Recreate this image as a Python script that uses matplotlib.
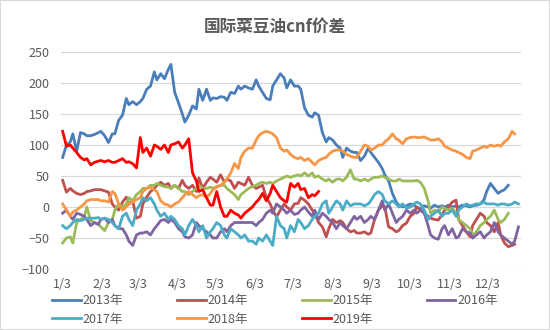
import numpy as np
import pandas as pd
import matplotlib
matplotlib.use("Agg")
import matplotlib.pyplot as plt
from matplotlib.patches import Rectangle

plt.rcParams['font.family'] = ['Noto Sans CJK SC', 'DejaVu Sans']

# day of year for each sampled trading date
days = [3, 6, 9, 11, 14, 17, 20, 22, 25, 28,
        31, 33, 36, 39, 42, 44, 47, 50, 53, 55,
        58, 61, 64, 66, 69, 72, 75, 77, 80, 83,
        86, 88, 91, 94, 97, 99, 102, 105, 108, 110,
        113, 116, 119, 121, 124, 127, 130, 132, 135, 138,
        141, 143, 146, 149, 152, 155, 157, 160, 163, 166,
        168, 171, 174, 177, 179, 182, 185, 188, 190, 193,
        196, 199, 201, 204, 207, 210, 212, 215, 218, 221,
        223, 226, 229, 232, 234, 237, 240, 243, 245, 248,
        251, 254, 256, 259, 262, 265, 267, 270, 273, 276,
        279, 281, 284, 287, 290, 292, 295, 298, 301, 303,
        306, 309, 312, 314, 317, 320, 323, 325, 328, 331,
        334, 336, 339, 342, 345, 347, 350, 353, 356, 358,
        361]

y2013 = [80, 100, 105, 118, 90, 120, 118, 115, 115, 117,
         120, 122, 115, 104, 118, 118, 140, 148, 175, 165,
         170, 165, 170, 175, 190, 195, 218, 205, 215, 207,
         222, 230, 185, 168, 150, 137, 148, 163, 158, 190,
         172, 190, 172, 176, 175, 178, 177, 172, 185, 183,
         195, 190, 195, 192, 190, 205, 195, 185, 175, 173,
         195, 205, 215, 208, 192, 205, 195, 195, 190, 160,
         148, 145, 152, 148, 120, 105, 112, 108, 100, 95,
         80, 95, 90, 88, 88, 75, 82, 95, 88, 80,
         72, 62, 52, 42, 22, 8, 3, 0, 2, 5,
         3, 0, -3, 2, 0, -2, 3, 0, 2, 0,
         3, 0, 2, 0, 3, 2, 0, 2, 3, 5,
         12, 25, 38, 30, 22, 25, 28, 35, None, None,
         None]

y2014 = [43, 24, 30, 26, 22, 20, 22, 25, 26, 28,
         28, 28, 26, 24, 5, 0, -5, 8, 16, 5,
         10, -18, -15, 5, 16, 25, 30, 35, 40, 35,
         38, 30, 35, 30, 43, 35, 30, 35, 25, 47,
         30, 40, 48, 45, 40, 52, 40, 45, 42, 30,
         40, 38, 35, 48, 35, 30, 32, 35, 15, 5,
         -5, -16, -5, 5, 0, -5, 5, 6, 15, 11,
         5, -5, -10, -25, -32, -48, -35, -20, -25, -22,
         -25, -35, -40, -38, -42, -42, -40, -44, -42, -20,
         -5, 2, 0, -32, -35, -40, -38, -30, -26, -15,
         -10, 0, -5, -10, -15, -18, -20, -21, -12, -5,
         0, 8, 11, -20, -30, -40, -48, -30, -20, -10,
         -15, -25, -30, -40, -25, -45, -58, -64, -62, -60,
         None]

y2015 = [-58, -50, -48, -58, -25, -20, -15, 0, -22, -25,
         -28, -32, -38, -25, -20, -5, 5, 0, 5, 15,
         10, 20, 25, 30, 30, 35, 35, 38, 35, 33,
         32, 30, 35, 30, 25, 25, 20, 25, 30, 35,
         30, 30, 32, 30, 33, 35, 35, 30, 25, 20,
         12, 20, 25, 30, 33, 35, 38, 40, 38, 40,
         38, 42, 45, 48, 50, 48, 50, 52, 50, 55,
         50, 55, 48, 50, 45, 42, 45, 40, 45, 45,
         42, 48, 60, 45, 45, 42, 45, 42, 45, 48,
         48, 50, 48, 45, 42, 42, 45, 42, 42, 42,
         42, 43, 40, 30, 10, -10, -5, -8, 0, -2,
         -5, -2, -10, -20, -25, -30, -35, -45, -40, -30,
         -25, -20, -15, -5, -20, -25, -20, -10, None, None,
         None]

y2016 = [-10, -5, -15, -20, -10, -12, -15, -20, -30, -25,
         -28, -20, -18, -25, -20, -30, -35, -35, -45, -55,
         -62, -45, -42, -42, -40, -45, -35, -30, -22, -20,
         -25, -20, -25, -35, -40, -48, -50, -45, -25, -30,
         -35, -40, -45, -50, -50, -40, -35, -40, -30, -25,
         -25, -25, -25, -25, -25, -30, -25, -20, -10, -5,
         -10, 5, 0, -5, -10, -5, -12, -10, -5, 0,
         -8, -15, -5, -20, -10, -15, -20, -25, -35, -25,
         -30, -35, -25, -15, -20, -15, -25, -20, -15, -20,
         -5, 10, -5, 5, -10, -25, -20, -15, -5, -10,
         -5, -10, -5, -10, -30, -45, -50, -52, -35, -30,
         -45, -35, -50, -48, -35, -40, -42, -50, -45, -40,
         -50, -45, -40, -25, -40, -45, -50, -55, -60, -55,
         -32]

y2017 = [-30, -35, -30, -25, -20, -22, -20, -18, -18, -18,
         -17, -20, -18, -20, -25, -30, -35, -15, -10, -20,
         -30, -5, 5, 15, 10, 15, 5, -5, -15, -10,
         -20, -15, -20, -30, -35, -45, -30, -20, -30, -40,
         -30, -50, -40, -35, -25, -30, -45, -50, -35, -40,
         -45, -50, -45, -55, -55, -60, -50, -55, -45, -55,
         -62, -15, -30, -35, -50, -30, -40, -20, -25, -35,
         -30, -20, -15, -10, 5, 10, -10, 0, 10, 5,
         -5, 10, 2, 5, 5, 5, 2, 5, 10, 20,
         25, 20, 10, 5, 10, 5, 0, 5, -2, 0,
         5, 8, 5, -5, -20, -15, -10, -5, -15, -10,
         -10, -5, -15, -5, 0, 5, 2, 3, 5, 5,
         8, 5, 5, 5, 3, 5, 5, 3, 5, 8,
         5]

y2018 = [5, -5, -15, -8, -5, 0, 5, 10, 12, 12,
         12, 10, 10, 8, 25, 22, 5, -5, 0, 5,
         8, 12, 15, 25, 30, 32, 28, 25, 10, 5,
         3, 0, 5, 8, 15, 20, 25, 20, 15, 18,
         20, 15, 22, 28, 32, 35, 40, 45, 55, 70,
         62, 80, 90, 95, 95, 108, 115, 120, 122, 120,
         118, 112, 95, 90, 92, 85, 80, 78, 80, 75,
         78, 72, 68, 75, 78, 80, 85, 90, 92, 92,
         90, 85, 82, 80, 80, 90, 100, 98, 92, 95,
         100, 100, 105, 110, 118, 110, 108, 102, 110, 112,
         113, 112, 112, 113, 110, 108, 108, 110, 105, 98,
         95, 92, 90, 88, 85, 80, 78, 90, 92, 95,
         98, 96, 100, 98, 100, 98, 105, 110, 122, 118,
         None]

y2019 = [122, 98, 100, 95, 88, 80, 76, 78, 68, 72,
         74, 75, 73, 75, 72, 72, 75, 78, 72, 73,
         70, 63, 112, 88, 95, 82, 100, 98, 93, 100,
         88, 100, 102, 105, 95, 100, 110, 55, 42, 25,
         28, 15, 3, 3, 25, 0, -15, -15, -5, -10,
         -13, -18, -10, -5, 0, 8, 12, 22, 10, 22,
         35, 25, 15, 10, 8, 38, 32, 38, 28, 30,
         15, 20, 18, 25] + [None] * 57

years = ["2013年", "2014年", "2015年", "2016年", "2017年", "2018年", "2019年"]
series = [y2013, y2014, y2015, y2016, y2017, y2018, y2019]
colors = ["#4A7EBB", "#C0504D", "#9BBB59", "#8064A2", "#4BACC6", "#F79646", "#FF0000"]

tick_days = [pd.Timestamp(2019, m, 3).dayofyear for m in range(1, 13)]
tick_labels = [f"{m}/3" for m in range(1, 13)]

text_color = "#595959"

fig = plt.figure(figsize=(5.5, 3.3), dpi=100)
ax = fig.add_axes([0.1116, 0.1848, 0.8357, 0.6576])

handles = []
for name, vals, c in zip(years, series, colors):
    h, = ax.plot(days, np.array(vals, dtype=float), color=c, lw=2.0,
                 solid_joinstyle='round', label=name)
    handles.append(h)

ax.set_xlim(2, 363)
ax.set_ylim(-100, 250)
ax.set_yticks(np.arange(-100, 251, 50))
ax.set_xticks(tick_days)
ax.set_xticklabels(tick_labels)
ax.grid(axis='y', color='#D9D9D9', lw=0.9)
ax.set_axisbelow(True)
for s in ax.spines.values():
    s.set_visible(False)
ax.tick_params(length=0, labelsize=9, labelcolor=text_color)
ax.tick_params(axis='y', pad=8.5)
ax.tick_params(axis='x', pad=6.5)

fig.text(0.5, 1 - 27 / 330, "国际菜豆油cnf价差", ha='center', va='center',
         fontsize=12, fontweight='bold', color=text_color)

# legend reads row by row: 2013-2016 on top, 2017-2019 below
order = [0, 4, 1, 5, 2, 6, 3]
leg = fig.legend([handles[i] for i in order], [years[i] for i in order],
                 loc='upper left', bbox_to_anchor=(52 / 550, 1 - 294 / 330),
                 ncol=4, frameon=False, fontsize=9, handlelength=2.3,
                 handletextpad=0.15, columnspacing=4.3, labelspacing=0.45,
                 borderpad=0, borderaxespad=0)
for t in leg.get_texts():
    t.set_color(text_color)

fig.patches.append(Rectangle((0, 0), 1, 1, transform=fig.transFigure,
                             fill=False, edgecolor='#D9D9D9', lw=1.5))

fig.savefig("out.png", dpi=100)
